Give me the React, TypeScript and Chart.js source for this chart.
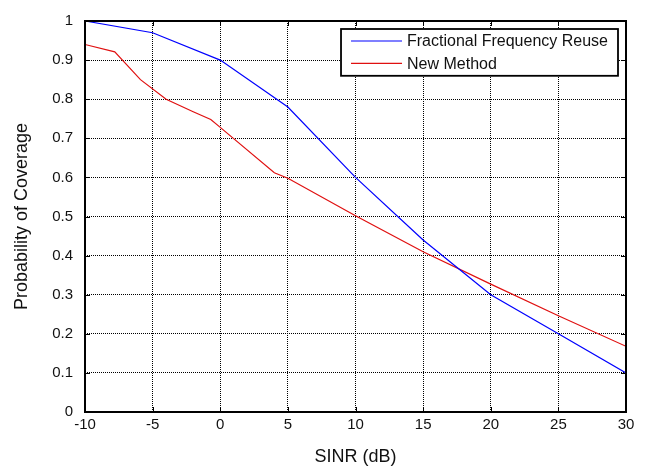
import React, { useEffect, useRef } from "react";
import { Chart, registerables } from "chart.js";

Chart.register(...registerables);

const xTicks = [-10, -5, 0, 5, 10, 15, 20, 25, 30];
const yTicks = [0, 0.1, 0.2, 0.3, 0.4, 0.5, 0.6, 0.7, 0.8, 0.9, 1];

const ffrLabel = "Fractional Frequency Reuse";
const ffrX = [-10, -5, 0, 5, 10, 15, 20, 25, 30];
const ffrY = [1.0, 0.97, 0.9, 0.78, 0.6, 0.44, 0.3, 0.2, 0.1];

const newLabel = "New Method";
const newX = [-10, -7.8, -5.9, -4, -2, -0.7, 0, 4, 5, 10, 15, 20, 25, 30];
const newY = [0.94, 0.921, 0.85, 0.8, 0.768, 0.748, 0.728, 0.612, 0.598, 0.502, 0.41, 0.327, 0.246, 0.168];

const FONT = "'Liberation Sans', Arial, Helvetica, sans-serif";

const framePlugin = {
  id: "frame",
  afterDatasetsDraw(chart: any) {
    const { ctx, chartArea } = chart;
    const { left, right, top, bottom } = chartArea;
    const xs = chart.scales.x;
    const ys = chart.scales.y;
    ctx.save();
    // inward tick marks
    ctx.strokeStyle = "#000";
    ctx.lineWidth = 1;
    ctx.setLineDash([]);
    const tl = 5;
    ctx.beginPath();
    xTicks.forEach((v) => {
      const px = Math.round(xs.getPixelForValue(v)) + 0.5;
      ctx.moveTo(px, bottom);
      ctx.lineTo(px, bottom - tl);
      ctx.moveTo(px, top);
      ctx.lineTo(px, top + tl);
    });
    yTicks.forEach((v) => {
      const py = Math.round(ys.getPixelForValue(v)) + 0.5;
      ctx.moveTo(left, py);
      ctx.lineTo(left + tl, py);
      ctx.moveTo(right, py);
      ctx.lineTo(right - tl, py);
    });
    ctx.stroke();
    // frame
    ctx.lineWidth = 2;
    ctx.strokeRect(left, top, right - left, bottom - top);

    // legend
    ctx.font = `16px ${FONT}`;
    const labels = chart.data.datasets.map((d: any) => d.label);
    const maxW = Math.max(...labels.map((l: string) => ctx.measureText(l).width));
    const padL = 10;
    const lineLen = 51;
    const gap = 5;
    const padR = 10;
    const rowH = 22.3;
    const boxW = padL + lineLen + gap + maxW + padR;
    const boxH = 12 + rowH * (labels.length - 1) + 12.5;
    const bx = right - 8 - boxW;
    const by = top + 8;
    ctx.fillStyle = "#fff";
    ctx.fillRect(bx, by, boxW, boxH);
    ctx.lineWidth = 1.8;
    ctx.strokeStyle = "#000";
    ctx.strokeRect(bx, by, boxW, boxH);
    chart.data.datasets.forEach((d: any, i: number) => {
      const ry = by + 12 + rowH * i;
      ctx.strokeStyle = d.borderColor;
      ctx.lineWidth = 1.2;
      ctx.beginPath();
      ctx.moveTo(bx + padL, ry);
      ctx.lineTo(bx + padL + lineLen, ry);
      ctx.stroke();
      ctx.fillStyle = "#111";
      ctx.textBaseline = "middle";
      ctx.textAlign = "left";
      ctx.fillText(d.label, bx + padL + lineLen + gap, ry + 1);
    });
    ctx.restore();
  },
};

export default function App() {
  const ref = useRef<HTMLCanvasElement | null>(null);
  useEffect(() => {
    if (!ref.current) return;
    const chart = new Chart(ref.current, {
      type: "scatter",
      data: {
        datasets: [
          {
            label: ffrLabel,
            data: ffrX.map((x, i) => ({ x, y: ffrY[i] })),
            showLine: true,
            borderColor: "#0000ff",
            backgroundColor: "#0000ff",
            borderWidth: 1.2,
            pointRadius: 0,
            tension: 0,
          },
          {
            label: newLabel,
            data: newX.map((x, i) => ({ x, y: newY[i] })),
            showLine: true,
            borderColor: "#e01010",
            backgroundColor: "#e01010",
            borderWidth: 1.2,
            pointRadius: 0,
            tension: 0,
          },
        ],
      },
      options: {
        responsive: false,
        animation: false,
        layout: { padding: { top: 16, right: 22, left: 0, bottom: 0 } },
        plugins: { legend: { display: false }, tooltip: { enabled: false } },
        scales: {
          x: {
            type: "linear",
            min: -10,
            max: 30,
            afterBuildTicks: (s: any) => {
              s.ticks = xTicks.map((v) => ({ value: v }));
            },
            afterFit: (s: any) => {
              s.height = 58;
            },
            ticks: {
              font: { family: FONT, size: 15 },
              color: "#111",
              padding: 4,
              maxRotation: 0,
              autoSkip: false,
            },
            grid: { color: "#000", lineWidth: 1, drawTicks: false },
            border: { display: false, dash: [1, 1] },
            title: {
              display: true,
              text: "SINR (dB)",
              font: { family: FONT, size: 18 },
              color: "#111",
              padding: { top: 0, bottom: 2 },
            },
          },
          y: {
            type: "linear",
            min: 0,
            max: 1,
            afterBuildTicks: (s: any) => {
              s.ticks = yTicks.map((v) => ({ value: v }));
            },
            afterFit: (s: any) => {
              s.width = 85;
            },
            ticks: {
              font: { family: FONT, size: 15 },
              color: "#111",
              padding: 12,
              autoSkip: false,
              callback: (v: any) => String(Math.round(Number(v) * 10) / 10),
            },
            grid: { color: "#000", lineWidth: 1, drawTicks: false },
            border: { display: false, dash: [1, 1] },
            title: {
              display: true,
              text: "Probability of Coverage",
              font: { family: FONT, size: 18 },
              color: "#111",
              padding: { top: 11, bottom: 0 },
            },
          },
        },
      },
      plugins: [framePlugin],
    });
    return () => chart.destroy();
  }, []);
  return (
    <div style={{ position: "absolute", left: 0, top: 0, width: 648, height: 470, background: "#fff" }}>
      <canvas ref={ref} width={648} height={470} />
    </div>
  );
}
